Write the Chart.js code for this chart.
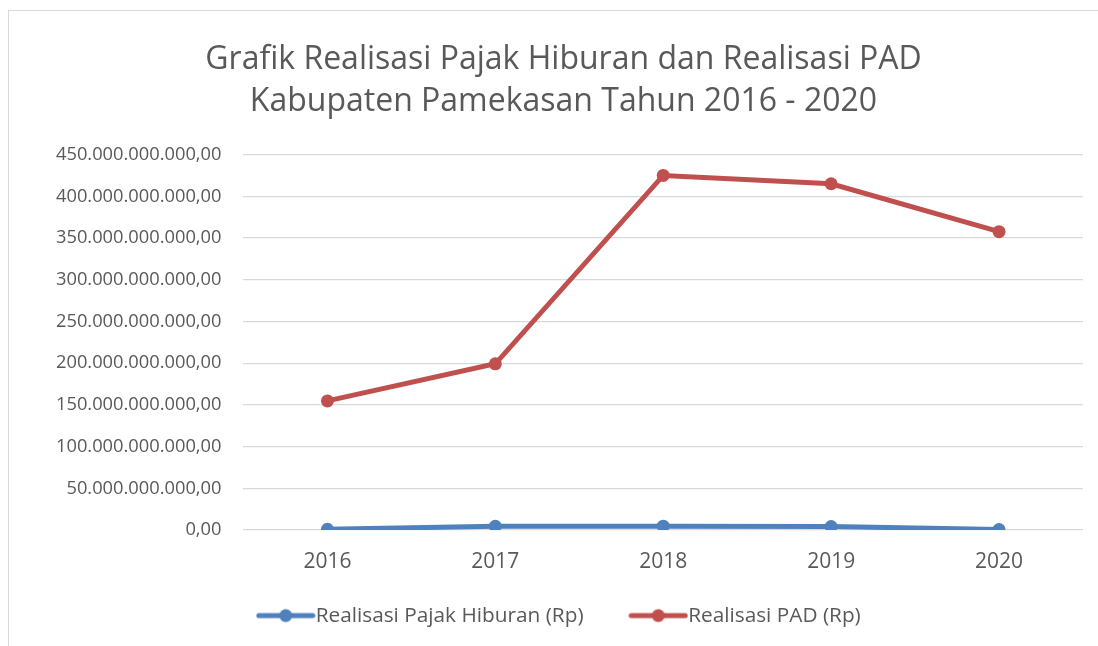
<!DOCTYPE html>
<html>
<head>
<meta charset="utf-8">
<script src="https://cdn.jsdelivr.net/npm/chart.js@4"></script>
<style>
    body { margin: 0; background: #fff; }
    #wrap { position: relative; width: 1098px; height: 646px; }
    #frame { position: absolute; left: 8px; top: 10px; right: -2px; bottom: -2px; border: 1px solid #d9d9d9; }
    canvas { position: absolute; left: 0; top: 0; }
</style>
</head>
<body>
<div id="wrap">
    <div id="frame"></div>
    <canvas id="pajakChart" width="1098" height="646"></canvas>
</div>
<script>
// data (Rupiah)
const years = ['2016', '2017', '2018', '2019', '2020'];
const pajakHiburan = [900000000, 4500000000, 4600000000, 4200000000, 600000000];
const realisasiPAD = [154800000000, 199300000000, 425200000000, 415200000000, 357800000000];
const seriesNames = ['Realisasi Pajak Hiburan (Rp)', 'Realisasi PAD (Rp)'];
const titleLines = ['Grafik Realisasi Pajak Hiburan dan Realisasi PAD', 'Kabupaten Pamekasan Tahun 2016 - 2020'];

const blue = '#4f81bd';
const red = '#c0504d';
const FONT = '"Open Sans", sans-serif';

// Indonesian number format: 450.000.000.000,00
function formatRp(v) {
    var s = Math.round(v).toString().replace(/\B(?=(\d{3})+(?!\d))/g, '.');
    return s + ',00';
}

// legend marker: short line with a dot in the middle
function legendMarker(color) {
    var c = document.createElement('canvas');
    c.width = 60;
    c.height = 16;
    var g = c.getContext('2d');
    g.strokeStyle = color;
    g.lineWidth = 5;
    g.lineCap = 'round';
    g.beginPath();
    g.moveTo(3, 8);
    g.lineTo(57, 8);
    g.stroke();
    g.fillStyle = color;
    g.beginPath();
    g.arc(30, 8, 6.5, 0, Math.PI * 2);
    g.fill();
    return c;
}

const markers = [legendMarker(blue), legendMarker(red)];
// extra room after the first legend entry
const legendGap = ['        ', ''];

var ctx = document.getElementById('pajakChart').getContext('2d');
var chart = new Chart(ctx, {
    type: 'line',
    data: {
        labels: years,
        datasets: [{
            label: seriesNames[0],
            data: pajakHiburan,
            borderColor: blue,
            backgroundColor: blue,
            borderWidth: 5,
            pointRadius: 6.5,
            pointHoverRadius: 6.5,
            pointBorderWidth: 0,
            tension: 0
        }, {
            label: seriesNames[1],
            data: realisasiPAD,
            borderColor: red,
            backgroundColor: red,
            borderWidth: 5,
            pointRadius: 6.5,
            pointHoverRadius: 6.5,
            pointBorderWidth: 0,
            tension: 0
        }]
    },
    options: {
        responsive: false,
        animation: false,
        layout: {
            padding: { top: 26, left: 44, right: 15, bottom: 10 }
        },
        plugins: {
            title: {
                display: true,
                text: titleLines,
                color: '#595959',
                font: { family: FONT, size: 32, weight: 'normal', lineHeight: 1.34 },
                padding: { top: 12, bottom: 31 }
            },
            legend: {
                position: 'bottom',
                labels: {
                    usePointStyle: true,
                    pointStyleWidth: 39,
                    color: '#595959',
                    font: { family: FONT, size: 20.8 },
                    padding: 12,
                    generateLabels: function(chart) {
                        return chart.data.datasets.map(function(ds, i) {
                            return {
                                text: ds.label + legendGap[i],
                                pointStyle: markers[i],
                                fillStyle: ds.borderColor,
                                strokeStyle: ds.borderColor,
                                lineWidth: 0,
                                fontColor: '#595959',
                                datasetIndex: i
                            };
                        });
                    }
                }
            },
            tooltip: { enabled: false }
        },
        scales: {
            x: {
                offset: true,
                grid: { display: false, drawTicks: false },
                border: { display: false },
                ticks: {
                    color: '#595959',
                    font: { family: FONT, size: 21 },
                    padding: 19
                }
            },
            y: {
                min: 0,
                max: 450000000000,
                grid: { color: '#d9d9d9', lineWidth: 1.3, drawTicks: false },
                border: { display: false },
                ticks: {
                    stepSize: 50000000000,
                    color: '#595959',
                    font: { family: FONT, size: 18.3 },
                    padding: 22,
                    callback: function(value) { return formatRp(value); }
                },
                // labels hang a little into the left padding
                afterFit: function(scale) {
                    scale.width = scale.width - 10;
                }
            }
        }
    }
});
</script>
</body>
</html>
